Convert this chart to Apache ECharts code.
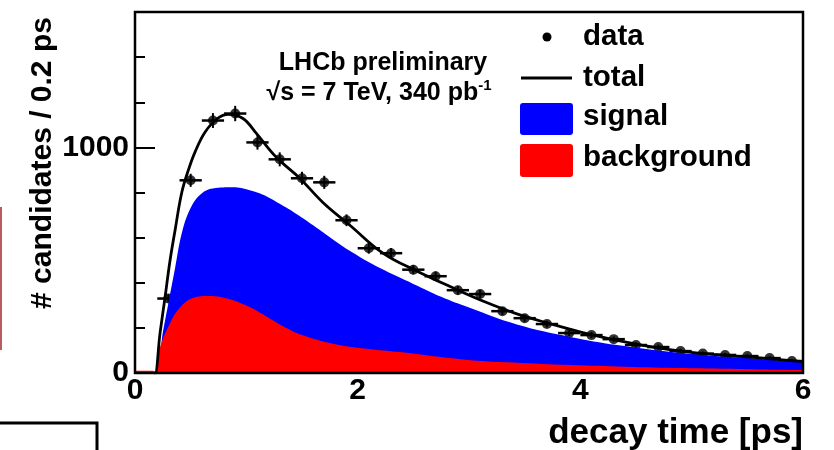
<!DOCTYPE html>
<html>
<head>
<meta charset="utf-8">
<script src="https://cdn.jsdelivr.net/npm/echarts@6.0.0/dist/echarts.min.js"></script>
<style>
  html, body { margin: 0; padding: 0; background: #fff; }
  #main { width: 834px; height: 450px; }
</style>
</head>
<body>
<div id="main"></div>
<script>
// binned data, 0.2 ps bins
var dataT   = [0.3, 0.5, 0.7, 0.9, 1.1, 1.3, 1.5, 1.7, 1.9, 2.1, 2.3, 2.5, 2.7, 2.9, 3.1, 3.3, 3.5, 3.7, 3.9, 4.1, 4.3, 4.5, 4.7, 4.9, 5.1, 5.3, 5.5, 5.7, 5.9];
var dataN   = [330, 854, 1119, 1150, 1022, 947, 863, 845, 677, 553, 531, 458, 429, 367, 350, 274, 243, 217, 177, 168, 150, 124, 115, 97, 86, 80, 75, 66, 53];
var dataErr = [18, 29, 33, 34, 32, 31, 29, 29, 26, 24, 23, 21, 21, 19, 19, 17, 16, 15, 13, 13, 12, 11, 11, 10, 9, 9, 9, 8, 7];
var binHalf = 0.1;

// fit curves
var totalT = [0.17, 0.18, 0.225, 0.27, 0.315, 0.36, 0.42, 0.48, 0.54, 0.63, 0.74, 0.84, 0.97, 1.09, 1.27, 1.48, 1.69, 1.93, 2.23, 2.53, 2.83, 3.13, 3.43, 3.73, 4.03, 4.33, 4.63, 4.92, 5.23, 5.53, 6.0];
var totalV = [0, 0, 177, 336, 500, 633, 800, 900, 980, 1068, 1128, 1146, 1128, 1062, 956, 863, 755, 655, 530, 452, 383, 318, 262, 218, 178, 145, 117, 96, 81, 70, 50];

var sigT = [0, 0.18, 0.25, 0.3, 0.36, 0.42, 0.49, 0.58, 0.7, 0.88, 1.03, 1.15, 1.3, 1.45, 1.6, 1.75, 1.95, 2.2, 2.5, 2.75, 3.0, 3.43, 3.91, 4.33, 4.92, 5.5, 6.0];
var sigV = [0, 0, 180, 310, 465, 619, 721, 788, 818, 823, 810, 790, 750, 705, 655, 602, 535, 465, 395, 338, 290, 215, 160, 124, 88, 66, 47];

var bkgT = [0, 0.16, 0.18, 0.225, 0.315, 0.4, 0.52, 0.67, 0.85, 1.03, 1.18, 1.33, 1.48, 1.78, 2.08, 2.38, 2.95, 3.4, 3.91, 4.4, 4.92, 5.5, 6.0];
var bkgV = [10, 10, 0, 115, 221, 288, 332, 341, 327, 292, 250, 207, 172, 130, 108, 93, 60, 46, 35, 28, 22, 17, 13];

var xTicks = [0, 2, 4, 6];
var yLabels = [0, 1000];

var zip = (a, b) => a.map((v, i) => [v, b[i]]);
var font = "'Liberation Sans', Arial, sans-serif";

var chart = echarts.init(document.getElementById('main'));

var option = {
  animation: false,
  grid: { left: 135, right: 31, top: 12, bottom: 77, show: false },
  xAxis: {
    type: 'value', min: xTicks[0], max: xTicks[xTicks.length - 1], interval: 2,
    axisLine: { show: false },
    axisTick: { show: false },
    splitLine: { show: false },
    axisLabel: { color: '#000', fontFamily: font, fontWeight: 'bold', fontSize: 30, margin: 3 }
  },
  yAxis: [
    {
      type: 'value', min: 0, max: 1600, interval: 200,
      axisLine: { show: false },
      axisTick: { inside: true, length: 10, lineStyle: { color: '#000', width: 2 } },
      splitLine: { show: false },
      axisLabel: {
        color: '#000', fontFamily: font, fontWeight: 'bold', fontSize: 30, margin: 6,
        formatter: v => yLabels.indexOf(v) >= 0 ? String(v) : ''
      }
    },
    {
      type: 'value', min: 0, max: 1600, interval: 1000, position: 'left',
      axisLine: { show: false },
      axisTick: { inside: true, length: 20, lineStyle: { color: '#000', width: 2 } },
      axisLabel: { show: false },
      splitLine: { show: false }
    }
  ],
  series: [
    {
      name: 'data err', type: 'custom', z: 1,
      data: dataT.map((t, i) => [t, dataN[i], dataErr[i]]),
      renderItem: function (params, api) {
        var t = api.value(0), n = api.value(1), e = api.value(2);
        var l = api.coord([t - binHalf, n]), r = api.coord([t + binHalf, n]);
        var lo = api.coord([t, n - e]), hi = api.coord([t, n + e]);
        return {
          type: 'group',
          children: [
            { type: 'line', shape: { x1: l[0], y1: l[1], x2: r[0], y2: r[1] }, style: { stroke: '#000', lineWidth: 2.5 } },
            { type: 'line', shape: { x1: lo[0], y1: lo[1], x2: hi[0], y2: hi[1] }, style: { stroke: '#000', lineWidth: 2 } }
          ]
        };
      }
    },
    {
      name: 'data', type: 'scatter', z: 1, symbol: 'circle', symbolSize: 10,
      itemStyle: { color: '#000' },
      data: zip(dataT, dataN)
    },
    {
      name: 'signal', type: 'line', z: 2, smooth: 0.4, showSymbol: false,
      lineStyle: { width: 0 }, areaStyle: { color: '#0000ff', opacity: 1 },
      data: zip(sigT, sigV)
    },
    {
      name: 'background', type: 'line', z: 3, smooth: 0.4, showSymbol: false,
      lineStyle: { width: 0 }, areaStyle: { color: '#ff0000', opacity: 1 },
      data: zip(bkgT, bkgV)
    },
    {
      name: 'total', type: 'line', z: 4, smooth: 0.4, showSymbol: false,
      lineStyle: { color: '#000', width: 2.8 },
      data: zip(totalT, totalV)
    }
  ],
  graphic: [
    // frame
    { type: 'rect', z: 100, shape: { x: 135, y: 12, width: 668, height: 361 }, style: { fill: 'none', stroke: '#000', lineWidth: 2.5 } },
    // axis titles
    { type: 'text', z: 100, x: 803, y: 433, style: { text: 'decay time [ps]', font: 'bold 35px ' + font, fill: '#000', align: 'right', verticalAlign: 'middle' } },
    { type: 'text', z: 100, x: 43, y: 163, rotation: Math.PI / 2, style: { text: '# candidates / 0.2 ps', font: 'bold 30px ' + font, fill: '#000', align: 'center', verticalAlign: 'middle' } },
    // annotations
    { type: 'text', z: 100, x: 383, y: 63, style: { text: 'LHCb preliminary', font: 'bold 25px ' + font, fill: '#000', align: 'center', verticalAlign: 'middle' } },
    {
      type: 'text', z: 100, x: 379, y: 92,
      style: {
        text: '{a|√s = 7 TeV, 340 pb}{b|-1}', align: 'center', verticalAlign: 'middle', fill: '#000',
        rich: {
          a: { font: 'bold 25px ' + font, fill: '#000', lineHeight: 28, verticalAlign: 'bottom' },
          b: { font: 'bold 15px ' + font, fill: '#000', lineHeight: 28, verticalAlign: 'top' }
        }
      }
    },
    // legend
    { type: 'circle', z: 100, shape: { cx: 547, cy: 37, r: 4.5 }, style: { fill: '#000' } },
    { type: 'text', z: 100, x: 583, y: 37, style: { text: 'data', font: 'bold 29.5px ' + font, fill: '#000', verticalAlign: 'middle' } },
    { type: 'line', z: 100, shape: { x1: 521, y1: 78, x2: 572, y2: 78 }, style: { stroke: '#000', lineWidth: 2.8 } },
    { type: 'text', z: 100, x: 583, y: 78, style: { text: 'total', font: 'bold 29.5px ' + font, fill: '#000', verticalAlign: 'middle' } },
    { type: 'rect', z: 100, shape: { x: 520, y: 103, width: 53, height: 32, r: 3 }, style: { fill: '#0000ff' } },
    { type: 'text', z: 100, x: 583, y: 117, style: { text: 'signal', font: 'bold 29.5px ' + font, fill: '#000', verticalAlign: 'middle' } },
    { type: 'rect', z: 100, shape: { x: 520, y: 144, width: 53, height: 33, r: 3 }, style: { fill: '#ff0000' } },
    { type: 'text', z: 100, x: 583, y: 158, style: { text: 'background', font: 'bold 29.5px ' + font, fill: '#000', verticalAlign: 'middle' } },
    // edge remnants of neighbouring figures
    { type: 'line', z: 100, shape: { x1: 1, y1: 207, x2: 1, y2: 350 }, style: { stroke: '#a0262a', lineWidth: 1.5 } },
    { type: 'polyline', z: 100, shape: { points: [[0, 423], [97, 423], [97, 450]] }, style: { stroke: '#000', lineWidth: 3, fill: 'none' } }
  ]
};

chart.setOption(option);
</script>
</body>
</html>
